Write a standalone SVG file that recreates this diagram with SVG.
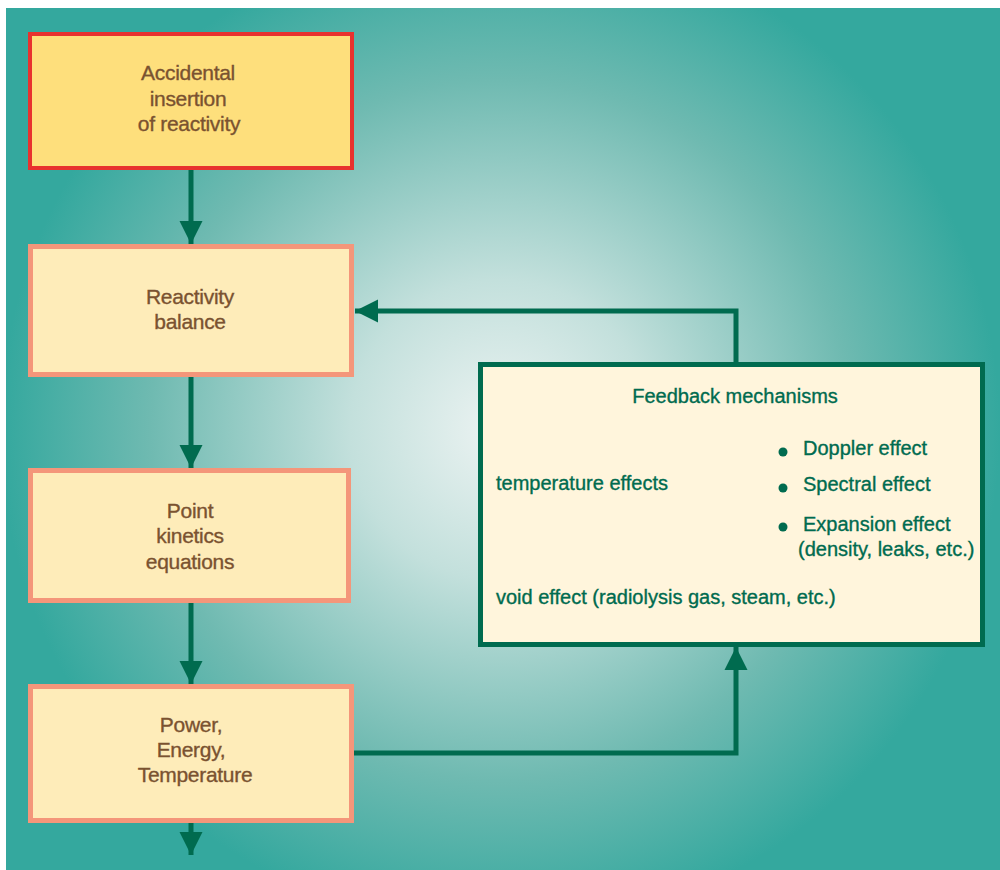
<svg xmlns="http://www.w3.org/2000/svg" width="1000" height="870" viewBox="0 0 1000 870">
<defs>
<radialGradient id="bg" gradientUnits="userSpaceOnUse" cx="500" cy="430" r="500">
<stop offset="0" stop-color="#ecf3f2"/>
<stop offset="0.3" stop-color="#c3e0dc"/>
<stop offset="0.7" stop-color="#6fbab1"/>
<stop offset="1" stop-color="#34a89e"/>
</radialGradient>
<marker id="ah" viewBox="0 0 10 10" refX="10" refY="5" markerUnits="userSpaceOnUse" markerWidth="23" markerHeight="27" orient="auto">
<path d="M0,0 L10,5 L0,10 Z" fill="#006b4f"/>
</marker>
<style>
.box{fill:#feecb9;stroke:#f4967a;stroke-width:5}
.lbl{font-family:"Liberation Sans",Arial,sans-serif;font-size:21px;fill:#7a5230;stroke:#7a5230;stroke-width:0.35px;text-anchor:middle;letter-spacing:-0.3px}
.fb{font-family:"Liberation Sans",Arial,sans-serif;font-size:20px;fill:#006b4f;stroke:#006b4f;stroke-width:0.35px}
.con{fill:none;stroke:#006b4f;stroke-width:5}
</style>
</defs>
<rect x="0" y="0" width="1000" height="870" fill="#ffffff"/>
<rect x="6" y="8" width="994" height="862" fill="url(#bg)"/>

<g id="connectors">
<path class="con" d="M191,170 V244" marker-end="url(#ah)"/>
<path class="con" d="M191,377 V468" marker-end="url(#ah)"/>
<path class="con" d="M191,603 V684" marker-end="url(#ah)"/>
<path class="con" d="M191,823 V855" marker-end="url(#ah)"/>
<path class="con" d="M736,362 V311 H355" marker-end="url(#ah)"/>
<path class="con" d="M354,753 H736 V647" marker-end="url(#ah)"/>
</g>

<g id="n1">
<rect x="30" y="34" width="322" height="134" fill="#fedf7c" stroke="#e8322e" stroke-width="4"/>
<text class="lbl" x="188" y="80">Accidental</text>
<text class="lbl" x="188" y="106">insertion</text>
<text class="lbl" x="189" y="131">of reactivity</text>
</g>

<g id="n2">
<rect class="box" x="30.5" y="246.5" width="321" height="128"/>
<text class="lbl" x="190" y="304">Reactivity</text>
<text class="lbl" x="190" y="329">balance</text>
</g>

<g id="n3">
<rect class="box" x="30.5" y="470.5" width="318" height="130"/>
<text class="lbl" x="190" y="518">Point</text>
<text class="lbl" x="190" y="543">kinetics</text>
<text class="lbl" x="190" y="569">equations</text>
</g>

<g id="n4">
<rect class="box" x="30.5" y="686.5" width="321" height="134"/>
<text class="lbl" x="191" y="732">Power,</text>
<text class="lbl" x="191" y="757">Energy,</text>
<text class="lbl" x="195" y="782">Temperature</text>
</g>

<g id="n5">
<rect x="480.5" y="364.5" width="502" height="280" fill="#fff5dc" stroke="#006b4f" stroke-width="5"/>
<text class="fb" x="735" y="403" text-anchor="middle">Feedback mechanisms</text>
<text class="fb" x="496" y="490">temperature effects</text>
<circle cx="783" cy="452" r="4.5" fill="#006b4f"/>
<circle cx="783" cy="488" r="4.5" fill="#006b4f"/>
<circle cx="783" cy="527" r="4.5" fill="#006b4f"/>
<text class="fb" x="803" y="455">Doppler effect</text>
<text class="fb" x="803" y="491">Spectral effect</text>
<text class="fb" x="803" y="531">Expansion effect</text>
<text class="fb" x="798" y="556">(density, leaks, etc.)</text>
<text class="fb" x="496" y="604">void effect (radiolysis gas, steam, etc.)</text>
</g>
</svg>
